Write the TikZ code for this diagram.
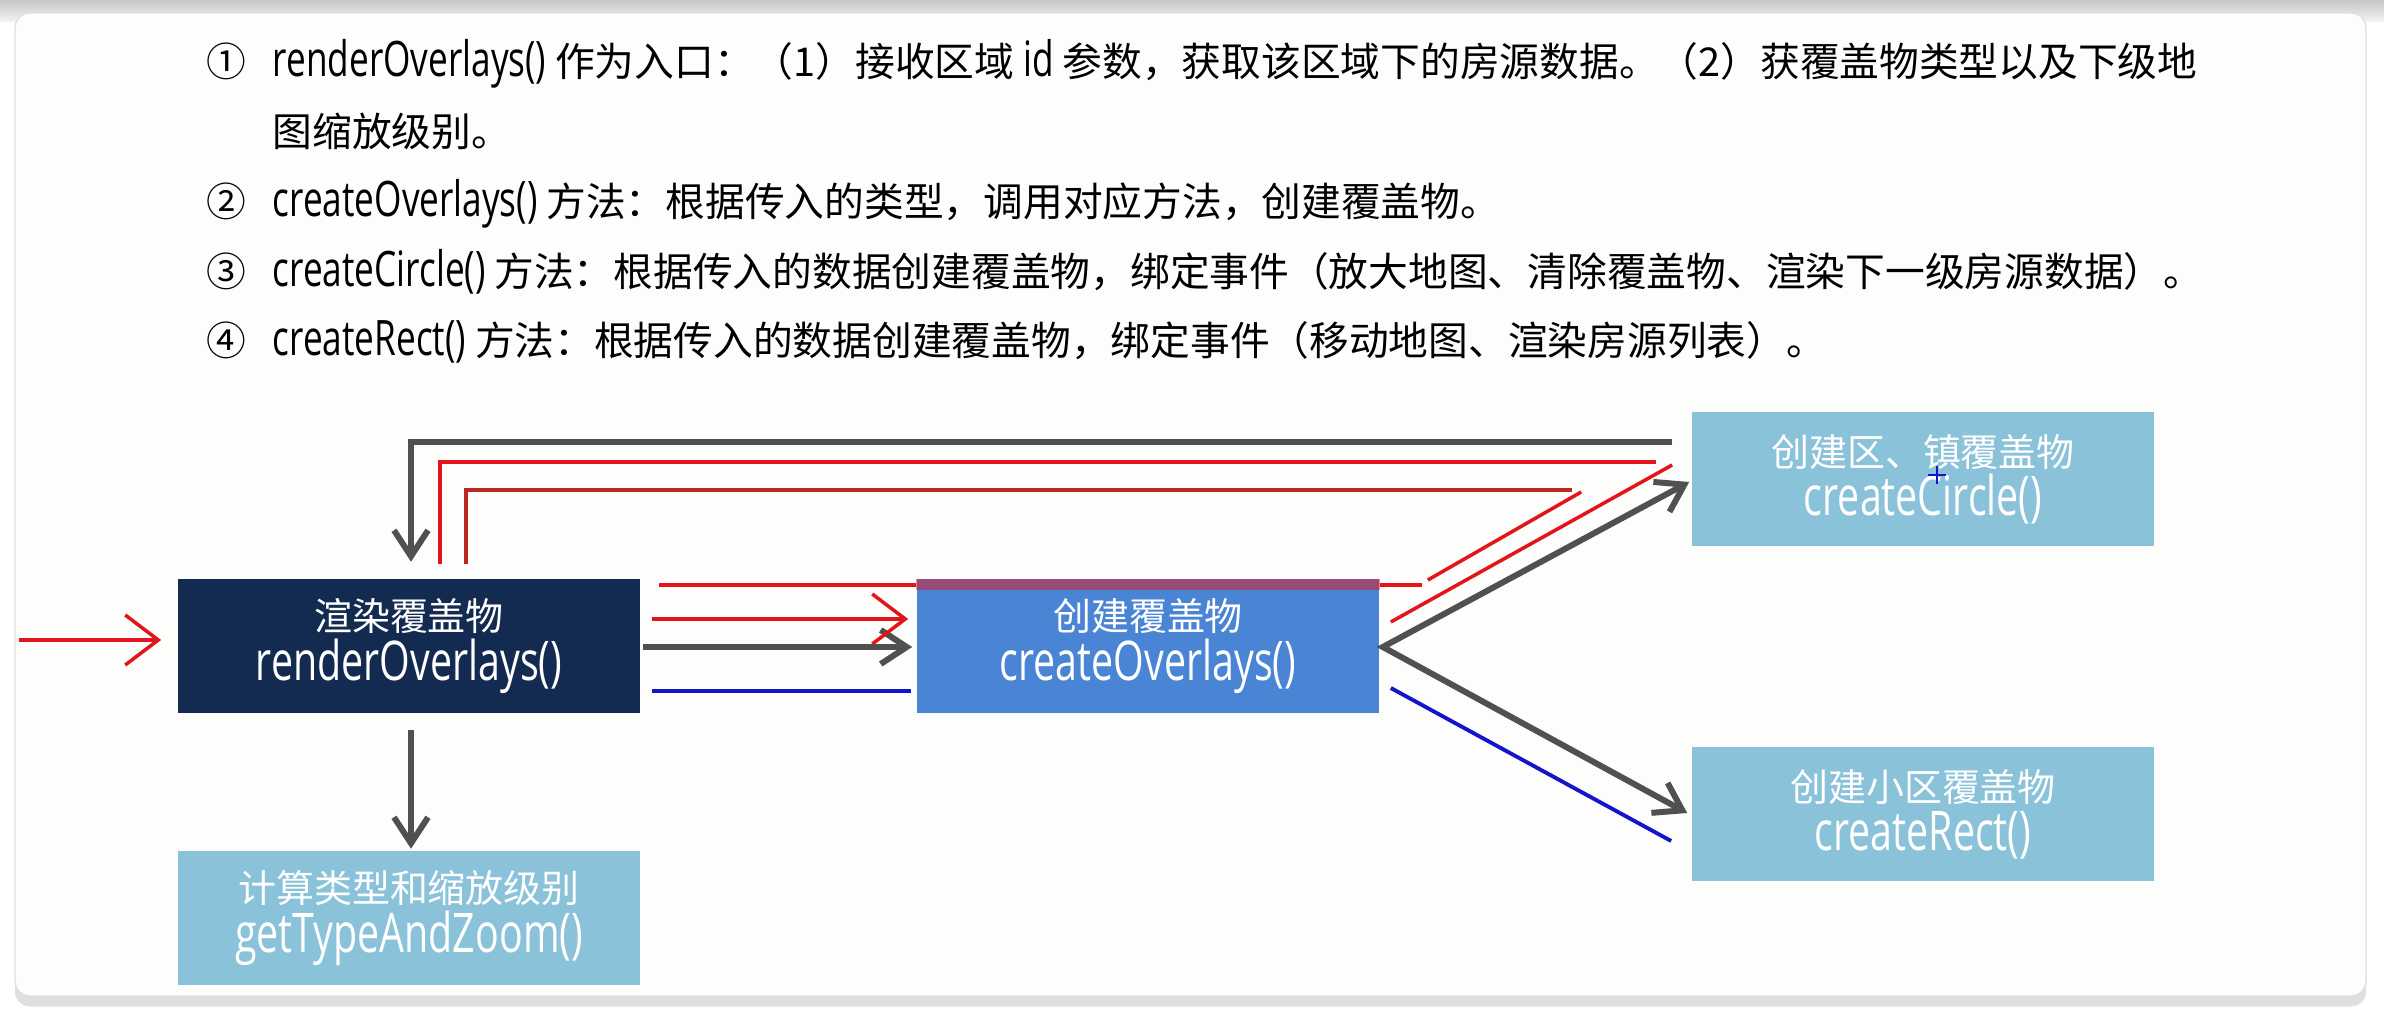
\documentclass[tikz,border=0pt]{standalone}
\usepackage{fontspec}
\setmainfont{Noto Sans CJK SC}
\newfontfamily\latn{Open Sans}[FakeStretch=0.72, Scale=1.23]
\newfontfamily\boxlatn{Open Sans}[FakeStretch=0.72, Scale=1.44]
\usetikzlibrary{arrows.meta, calc, shadows}

\definecolor{navy}{RGB}{19,43,80}
\definecolor{midblue}{RGB}{74,132,212}
\definecolor{paleblue}{RGB}{137,194,217}
\definecolor{arrowgray}{RGB}{80,80,80}
\definecolor{penred}{RGB}{226,22,26}
\definecolor{pendark}{RGB}{185,40,35}
\definecolor{penblue}{RGB}{20,20,200}
\definecolor{cardbg}{RGB}{253,253,251}

\newcommand{\fn}[1]{{\latn #1}}

\begin{document}
\begin{tikzpicture}[x=0.01cm, y=-0.01cm,
    funcbox/.style={fill=#1, text=white, minimum width=4.62cm, minimum height=1.33cm,
      inner sep=0pt, align=center, font=\fontsize{10.8pt}{14pt}\selectfont},
    item/.style={anchor=base west, inner sep=0pt, font=\fontsize{11.3pt}{14pt}\selectfont},
    num/.style={anchor=base, inner sep=0pt, font=\fontsize{11.3pt}{14pt}\selectfont},
    flow/.style={arrowgray, line width=1.7pt, >={Straight Barb[length=2.6mm, width=3.4mm]}},
    pen/.style={penred, line width=1pt, >={Straight Barb[length=3.3mm, width=5mm]}},
    bluepen/.style={penblue, line width=1.1pt}]
  \useasboundingbox (0,0) rectangle (2384,1010);

  % 背景与卡片
  \fill[white] (0,0) rectangle (2384,1010);
  \shade[top color=gray!45, bottom color=gray!8] (0,0) rectangle (2384,22);
  \filldraw[fill=cardbg, draw=gray!25, rounded corners=0.15cm,
    drop shadow={shadow xshift=0pt, shadow yshift=-3pt, opacity=0.25}] (15,13) rectangle (2366,996);

  % 1. 说明文字
  \node[num] (n1) at (226,77) {①};
  \node[item] (t1) at (272,77) {\fn{renderOverlays()} 作为入口：（1）接收区域 \fn{id} 参数，获取该区域下的房源数据。（2）获覆盖物类型以及下级地};
  \node[item] (t1b) at (272,147) {图缩放级别。};
  \node[num] (n2) at (226,217) {②};
  \node[item] (t2) at (272,217) {\fn{createOverlays()} 方法：根据传入的类型，调用对应方法，创建覆盖物。};
  \node[num] (n3) at (226,287) {③};
  \node[item] (t3) at (272,287) {\fn{createCircle()} 方法：根据传入的数据创建覆盖物，绑定事件（放大地图、清除覆盖物、渲染下一级房源数据）。};
  \node[num] (n4) at (226,356) {④};
  \node[item] (t4) at (272,356) {\fn{createRect()} 方法：根据传入的数据创建覆盖物，绑定事件（移动地图、渲染房源列表）。};

  % 2. 方法框
  \node[funcbox=navy] (render) at (409,646) {渲染覆盖物\\{\boxlatn renderOverlays()}};
  \node[funcbox=midblue] (crov) at (1148,646) {创建覆盖物\\{\boxlatn createOverlays()}};
  \node[funcbox=paleblue] (crcircle) at (1923,479) {创建区、镇覆盖物\\{\boxlatn createCircle()}};
  \node[funcbox=paleblue] (crrect) at (1923,814) {创建小区覆盖物\\{\boxlatn createRect()}};
  \node[funcbox=paleblue] (gettype) at (409,918) {计算类型和缩放级别\\{\boxlatn getTypeAndZoom()}};

  % 调用关系（灰色）
  \draw[flow, ->] ($(crcircle.west)+(-19,-37)$) -| ($(render.north)+(2,-17)$);
  \draw[flow, ->] ($(render.east)+(2,1)$) -- ($(crov.west)+(-4,1)$);
  \draw[flow, <->] ($(crcircle.west)+(-2,3)$) -- ($(crov.east)+(3,1)$) -- ($(crrect.west)+(-4,-1)$);
  \draw[flow, ->] ($(render.south)+(2,17)$) -- ($(gettype.north)+(2,-2)$);

  % 红笔标注：区、镇
  \coordinate (entry) at (19,640);
  \draw[pen, ->] (entry) -- ($(render.west)+(-16,-6)$);
  \draw[pen, ->] ($(render.east)+(11,-27)$) -- ($(crov.west)+(-8,-27)$);
  \draw[pen] ($(crov.east)+(11,-24)$) -- ($(crcircle.west)+(-19,-14)$);
  \draw[pen] ($(crcircle.west)+(-35,-17)$) -| ($(render.north)+(31,-15)$);

  % 红笔标注：下一级
  \draw[pen] ($(render.east)+(18,-61)$) -- ($(crov.west)+(0,-61)$);
  \fill[penred, opacity=0.5] (crov.north west) rectangle ($(crov.north east)+(0,11)$);
  \draw[pen] ($(crov.east)+(0,-61)$) -- ($(crov.east)+(42,-61)$);
  \draw[pen] ($(crov.east)+(48,-66)$) -- ($(crcircle.west)+(-110,13)$);
  \draw[pen, pendark] ($(crcircle.west)+(-119,11)$) -| ($(render.north)+(57,-15)$);

  % 蓝笔标注：小区
  \draw[bluepen] ($(render.east)+(11,45)$) -- ($(crov.west)+(-5,45)$);
  \draw[bluepen] ($(crov.east)+(11,42)$) -- ($(crrect.west)+(-20,27)$);

  % 鼠标指针
  \draw[penblue, line width=0.6pt] (1928,475) -- (1946,475) (1937,466) -- (1937,484);
\end{tikzpicture}
\end{document}
